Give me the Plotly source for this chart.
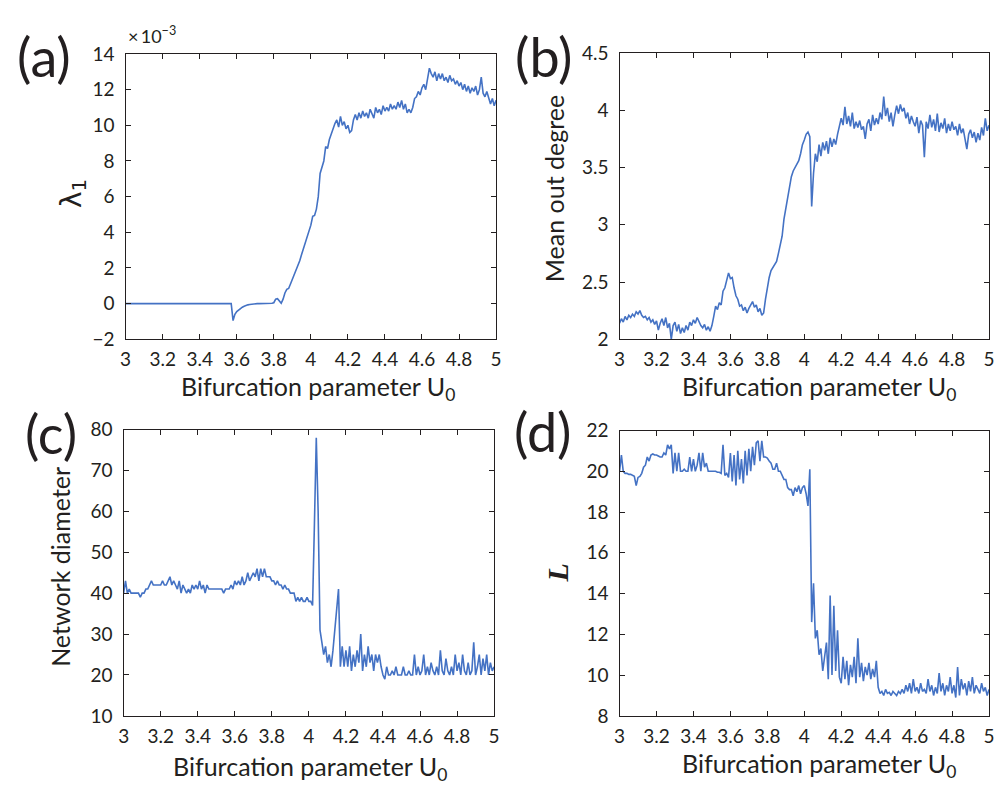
import plotly.graph_objects as go

# ---------------- data ----------------
# bifurcation parameter U0 grid (3.00 ... 5.00, step 0.01)
u0 = [round(3 + i * 0.01, 2) for i in range(201)]

# (a) largest Lyapunov exponent lambda_1, in units of 1e-3
lambda1 = [
    0, 0, 0, 0, 0, 0, 0, 0, 0, 0,                                  # 3.00
    0, 0, 0, 0, 0, 0, 0, 0, 0, 0,                                  # 3.10
    0, 0, 0, 0, 0, 0, 0, 0, 0, 0,                                  # 3.20
    0, 0, 0, 0, 0, 0, 0, 0, 0, 0,                                  # 3.30
    0, 0, 0, 0, 0, 0, 0, 0, 0, 0,                                  # 3.40
    0, 0, 0, 0, 0, 0, 0, 0, -0.95, -0.6,                           # 3.50
    -0.45, -0.35, -0.27, -0.2, -0.15, -0.1, -0.07, -0.05, -0.03, -0.02,  # 3.60
    -0.01, 0, 0, 0, 0, 0, 0, 0, 0.01, 0.02,                        # 3.70
    0.05, 0.25, 0.28, 0.15, 0.02, 0.25, 0.6, 0.8, 0.85, 1.1,       # 3.80
    1.35, 1.55, 1.8, 2.1, 2.4, 2.75, 3.1, 3.45, 3.8, 4.1,          # 3.90
    4.4, 4.9, 4.95, 5.3, 6.0, 7.3, 7.6, 8.0, 8.8, 8.7,             # 4.00
    9.2, 9.5, 9.9, 10.1, 10.3, 9.9, 10.5, 10.0, 10.2, 9.8,         # 4.10
    10.0, 9.6, 9.7, 10.3, 10.6, 10.3, 10.7, 10.4, 10.8, 10.5,      # 4.20
    10.7, 10.4, 10.9, 10.6, 10.4, 11.0, 10.7, 10.9, 10.6, 11.1,    # 4.30
    10.8, 11.0, 10.8, 11.2, 10.9, 11.1, 10.9, 11.3, 11.0, 11.4,    # 4.40
    10.9, 11.2, 10.7, 10.9, 10.7, 11.0, 11.5, 11.6, 11.9, 11.7,    # 4.50
    12.1, 12.3, 12.0, 12.6, 13.2, 12.9, 12.7, 13.0, 12.5, 12.9,    # 4.60
    12.6, 12.9, 12.5, 12.7, 12.4, 12.8, 12.5, 12.6, 12.3, 12.5,    # 4.70
    12.2, 12.4, 12.0, 12.3, 11.9, 12.2, 11.8, 12.1, 11.9, 12.2,    # 4.80
    11.7, 12.0, 12.7, 11.8, 11.6, 11.9, 11.5, 11.2, 11.5, 11.1,    # 4.90
    11.4,                                                          # 5.00
]

# (b) mean out degree
mean_out_degree = [
    2.14, 2.18, 2.15, 2.2, 2.17, 2.21, 2.19, 2.22, 2.2, 2.24,      # 3.00
    2.22, 2.25, 2.21, 2.19, 2.2, 2.17, 2.19, 2.15, 2.17, 2.13,     # 3.10
    2.16, 2.08, 2.14, 2.18, 2.12, 2.19, 2.1, 2.14, 2.0, 2.12,      # 3.20
    2.15, 2.07, 2.13, 2.05, 2.1, 2.06, 2.12, 2.08, 2.15, 2.12,     # 3.30
    2.17, 2.14, 2.19, 2.15, 2.12, 2.1, 2.13, 2.08, 2.11, 2.07,     # 3.40
    2.12, 2.2, 2.29, 2.26, 2.32, 2.3, 2.42, 2.45, 2.52, 2.58,      # 3.50
    2.53, 2.54, 2.45, 2.38, 2.35, 2.29, 2.3, 2.25, 2.28, 2.23,     # 3.60
    2.27, 2.3, 2.33, 2.28, 2.3, 2.24, 2.27, 2.21, 2.23, 2.35,      # 3.70
    2.45, 2.54, 2.6, 2.63, 2.65, 2.68, 2.75, 2.82, 2.9, 3.05,      # 3.80
    3.15, 3.25, 3.35, 3.42, 3.47, 3.5, 3.53, 3.56, 3.62, 3.7,      # 3.90
    3.74, 3.79, 3.81, 3.77, 3.16, 3.45, 3.62, 3.55, 3.7, 3.6,      # 4.00
    3.72, 3.65, 3.73, 3.62, 3.76, 3.68, 3.75, 3.7, 3.79, 3.85,     # 4.10
    3.93, 3.87, 4.03, 3.88, 3.95, 3.86, 3.98, 3.84, 3.9, 3.85,     # 4.20
    3.91, 3.83, 3.86, 3.75, 3.88, 3.92, 3.82, 3.96, 3.87, 3.93,    # 4.30
    3.88, 3.98, 3.92, 4.12, 3.95, 4.02, 3.9, 3.98, 3.86, 3.96,     # 4.40
    4.04, 3.97, 4.05, 3.99, 4.02, 3.93, 3.98, 3.88, 3.95, 3.9,     # 4.50
    3.86, 3.94, 3.8, 3.91, 3.87, 3.59, 3.9, 3.84, 3.96, 3.85,      # 4.60
    3.92, 3.82, 3.97, 3.81, 3.89, 3.84, 3.93, 3.8, 3.88, 3.82,     # 4.70
    3.9, 3.83, 3.86, 3.78, 3.88, 3.8, 3.84, 3.75, 3.66, 3.79,      # 4.80
    3.83, 3.76, 3.81, 3.72, 3.8, 3.74, 3.85, 3.78, 3.93, 3.82,     # 4.90
    3.87,                                                          # 5.00
]

# (c) network diameter
network_diameter = [
    40, 43, 40, 41, 40, 40, 40, 40, 40, 39,   # 3.00
    40, 40, 41, 41, 42, 43, 42, 42, 42, 42,   # 3.10
    42, 43, 42, 42, 43, 44, 42, 43, 42, 41,   # 3.20
    43, 40, 42, 41, 40, 41, 40, 42, 41, 42,   # 3.30
    41, 43, 41, 42, 40, 42, 41, 41, 41, 41,   # 3.40
    41, 41, 41, 41, 40, 41, 41, 41, 42, 41,   # 3.50
    43, 42, 43, 42, 44, 42, 43, 45, 43, 44,   # 3.60
    45, 44, 46, 43, 46, 44, 46, 44, 44, 44,   # 3.70
    43, 43, 42, 43, 42, 42, 41, 42, 41, 41,   # 3.80
    40, 40, 40, 38, 39, 38, 39, 38, 38, 39,   # 3.90
    38, 38, 37, 57, 78, 60, 31, 28, 25, 27,   # 4.00
    23, 25, 22, 26, 31, 36, 41, 22, 27, 22,   # 4.10
    26, 22, 27, 21, 25, 22, 26, 23, 30, 21,   # 4.20
    25, 22, 27, 23, 25, 21, 25, 23, 25, 22,   # 4.30
    20, 19, 22, 20, 20, 21, 20, 22, 20, 20,   # 4.40
    20, 22, 20, 20, 21, 20, 20, 25, 20, 22,   # 4.50
    20, 21, 25, 20, 22, 20, 23, 21, 20, 22,   # 4.60
    20, 26, 21, 20, 24, 21, 20, 22, 20, 25,   # 4.70
    21, 23, 20, 25, 21, 20, 23, 20, 21, 28,   # 4.80
    20, 22, 25, 20, 24, 21, 25, 20, 23, 21,   # 4.90
    22,                                       # 5.00
]

# (d) characteristic path length L
path_length = [
    20.0, 20.8, 20.0, 19.9, 19.9, 19.85, 19.85, 19.8, 19.75, 19.3,   # 3.00
    19.7, 19.75, 19.9, 20.2, 20.3, 20.7, 20.5, 20.8, 20.85, 20.8,    # 3.10
    20.8, 20.75, 20.7, 20.7, 20.9, 20.8, 21.3, 21.1, 21.3, 19.9,     # 3.20
    20.9, 20.0, 20.9, 20.0, 20.0, 20.1, 20.0, 20.0, 20.7, 20.0,      # 3.30
    20.6, 20.0, 20.3, 20.9, 20.0, 20.9, 20.2, 20.4, 20.0, 20.0,      # 3.40
    20.0, 20.0, 20.0, 19.95, 19.95, 19.9, 21.3, 19.8, 19.9, 19.7,    # 3.50
    20.9, 19.5, 20.8, 19.3, 21.0, 19.6, 20.6, 19.4, 21.0, 19.8,      # 3.60
    21.1, 20.0, 21.2, 20.3, 21.4, 21.5, 20.5, 21.5, 20.7, 20.7,      # 3.70
    20.65, 20.5, 20.4, 20.1, 20.1, 20.4, 20.0, 20.0, 19.8, 19.6,     # 3.80
    19.6, 19.2, 19.1, 19.1, 18.8, 19.2, 19.0, 19.3, 18.9, 19.2,      # 3.90
    19.3, 18.9, 18.3, 20.1, 12.6, 14.5, 11.8, 12.2, 11.0, 11.3,      # 4.00
    10.2, 10.8, 11.6, 9.8, 13.9, 10.0, 13.4, 10.2, 12.2, 9.9,        # 4.10
    9.6, 10.9, 9.8, 10.7, 9.5, 10.5, 9.9, 10.9, 9.6, 11.8,           # 4.20
    9.9, 10.6, 9.7, 10.4, 10.0, 10.6, 9.8, 10.3, 9.9, 10.7,          # 4.30
    9.4, 9.1, 9.2, 9.0, 9.3, 9.1, 9.15, 9.0, 9.2, 9.1,               # 4.40
    9.0, 9.2, 9.1, 9.3, 9.1, 9.5, 9.2, 9.6, 9.1, 9.8,                # 4.50
    9.2, 9.4, 9.1, 9.6, 9.2, 9.3, 9.1, 9.8, 9.2, 9.5,                # 4.60
    9.0, 9.4, 9.1, 10.1, 9.2, 9.6, 9.0, 9.5, 9.2, 9.9,               # 4.70
    9.1, 9.5, 8.9, 10.4, 9.0, 9.8, 9.3, 9.6, 9.0, 9.7,               # 4.80
    9.2, 9.9, 9.1, 9.5, 9.3, 9.1, 9.6, 9.2, 9.4, 9.0,                # 4.90
    9.3,                                                             # 5.00
]

panel_labels = ["(a)", "(b)", "(c)", "(d)"]
x_title = "Bifurcation parameter U<sub>0</sub>"
y_titles = ["λ<sub>1</sub>", "Mean out degree", "Network diameter", "<b><i>L</i></b>"]
y_ranges = [[-2, 14], [2, 4.5], [10, 80], [8, 22]]
y_dticks = [2, 0.5, 10, 2]
x_range = [3, 5]
x_dtick = 0.2

# ---------------- layout helpers ----------------
# the page body keeps its default 8 px margin, so the figure is sized to fit
# the 1004x796 window and positions are given in window pixels
OFF = 8
W, H = 1004 - 2 * OFF, 796 - 2 * OFF
def px(s):
    return (s - OFF) / W
def py(s):
    return 1 - (s - OFF) / H

LINE_COLOR = "#4472C4"
INK = "#231f20"
FONT = "Lato"

# plot boxes in window pixels: (left, right, top, bottom)
boxes = [
    (121, 496, 43, 337),
    (621, 995, 42, 337),
    (119, 494, 430, 725),
    (621, 995, 431, 725),
]
series = [lambda1, mean_out_degree, network_diameter, path_length]

fig = go.Figure()
layout = dict(
    width=W, height=H,
    margin=dict(l=0, r=0, t=0, b=0),
    paper_bgcolor="white", plot_bgcolor="white",
    showlegend=False,
    font=dict(family=FONT, color=INK),
)

axis_common = dict(
    showline=True, linecolor=INK, linewidth=1.4, mirror="ticks",
    ticks="inside", ticklen=5, tickwidth=1, tickcolor=INK,
    showgrid=False, zeroline=False,
    tickfont=dict(family=FONT, size=19, color=INK),
)

for i, (box, ys) in enumerate(zip(boxes, series)):
    n = "" if i == 0 else str(i + 1)
    l, r, t, b = box
    layout["xaxis" + n] = dict(
        axis_common, domain=[px(l), px(r)], anchor="y" + n,
        range=x_range, tick0=3, dtick=x_dtick, ticklabelstandoff=3,
    )
    layout["yaxis" + n] = dict(
        axis_common, domain=[py(b), py(t)], anchor="x" + n,
        range=y_ranges[i], tick0=y_ranges[i][0], dtick=y_dticks[i],
        ticklabelstandoff=6,
    )
    fig.add_trace(go.Scatter(
        x=u0, y=ys, mode="lines", xaxis="x" + n, yaxis="y" + n,
        line=dict(color=LINE_COLOR, width=1.6), hoverinfo="skip",
    ))

annotations = []
# x titles (center px, middle px)
xt_pos = [(316, 387), (823, 387), (308, 779), (823, 776)]
for (cx, cy) in xt_pos:
    annotations.append(dict(
        text=x_title, x=px(cx), y=py(cy), xref="paper", yref="paper",
        xanchor="center", yanchor="middle", showarrow=False,
        font=dict(family=FONT, size=25, color=INK),
    ))
# y titles
yt_pos = [(68, 187), (555, 182), (55, 571), (558, 578)]
for i, (cx, cy) in enumerate(yt_pos):
    fnt = dict(family=FONT, size=25, color=INK)
    if i == 0:
        fnt = dict(family="DejaVu Sans", size=28, color=INK)
    if i == 3:
        fnt = dict(family="Liberation Serif", size=30, color=INK)
    annotations.append(dict(
        text=y_titles[i], x=px(cx), y=py(cy), xref="paper", yref="paper",
        xanchor="center", yanchor="middle", showarrow=False, textangle=-90,
        font=fnt,
    ))
# panel labels
pl_pos = [(38, 46), (545, 46), (45, 434), (544, 432)]
for lab, (cx, cy) in zip(panel_labels, pl_pos):
    annotations.append(dict(
        text=lab, x=px(cx), y=py(cy), xref="paper", yref="paper",
        xanchor="center", yanchor="middle", showarrow=False,
        font=dict(family=FONT, size=54, color=INK),
    ))
# exponent label
annotations.append(dict(
    text="×\u200910<sup>−3</sup>", x=px(121), y=py(23), xref="paper", yref="paper",
    xanchor="left", yanchor="middle", showarrow=False,
    font=dict(family=FONT, size=18, color=INK),
))
layout["annotations"] = annotations

fig.update_layout(**layout)
fig.write_html("out.html")
